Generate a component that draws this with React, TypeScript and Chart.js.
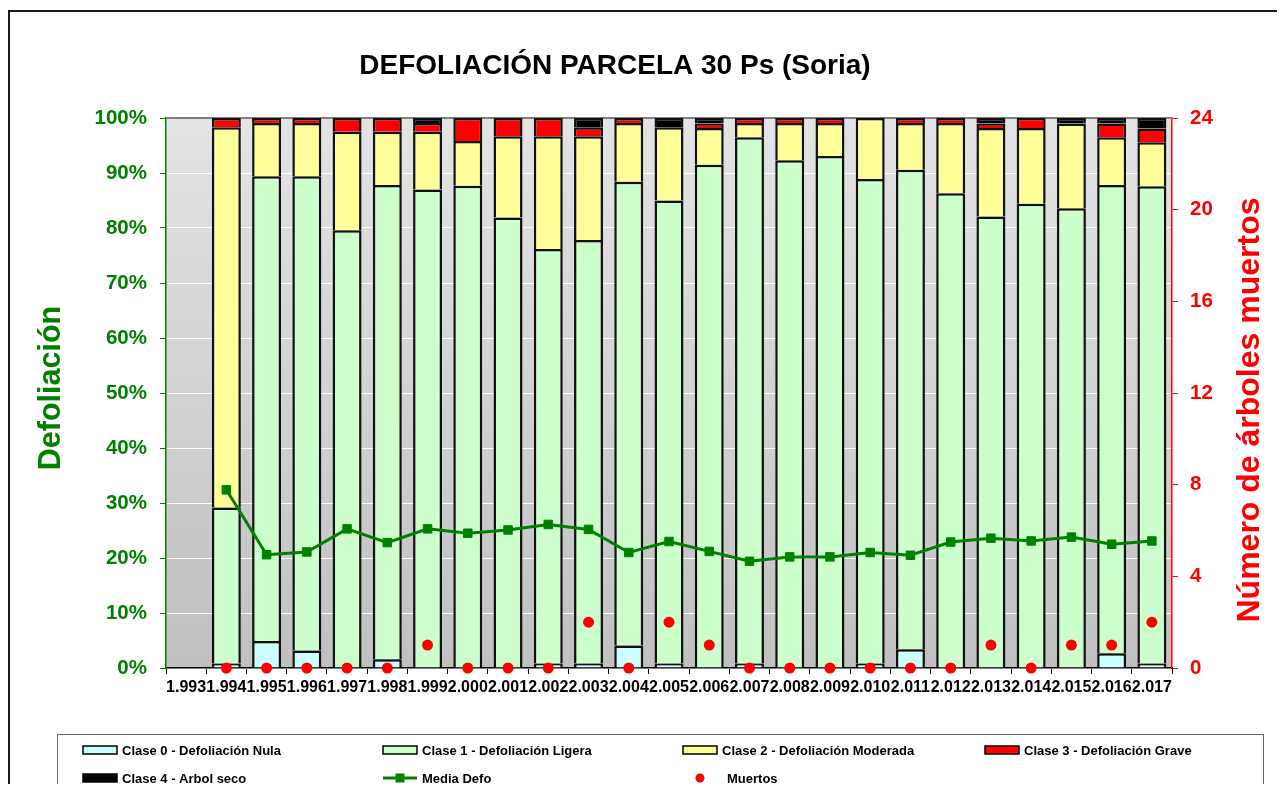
import React, { useEffect, useRef } from "react";
import { Chart, registerables } from "chart.js";

Chart.register(...registerables);

const years = ["1.993", "1.994", "1.995", "1.996", "1.997", "1.998", "1.999", "2.000", "2.001", "2.002", "2.003", "2.004", "2.005", "2.006", "2.007", "2.008", "2.009", "2.010", "2.011", "2.012", "2.013", "2.014", "2.015", "2.016", "2.017"];

const clase0 = [null, 0.8, 4.9, 3.2, 0, 1.6, 0, 0, 0, 0.8, 0.8, 4.1, 0.8, 0, 0.8, 0, 0, 0.8, 3.4, 0, 0, 0, 0, 2.7, 0.8];
const clase1 = [null, 28.4, 84.5, 86.2, 79.6, 86.2, 87.0, 87.7, 81.9, 75.4, 77.0, 84.3, 84.2, 91.5, 95.7, 92.3, 93.1, 88.1, 87.2, 86.3, 82.1, 84.4, 83.6, 85.1, 86.8];
const clase2 = [null, 69.1, 9.7, 9.7, 17.9, 9.7, 10.5, 8.1, 14.8, 20.5, 18.9, 10.7, 13.3, 6.7, 2.6, 6.8, 6.0, 11.1, 8.5, 12.8, 16.1, 13.8, 15.4, 8.7, 8.0];
const clase3 = [null, 1.7, 0.9, 0.9, 2.5, 2.5, 1.6, 4.2, 3.3, 3.3, 1.6, 0.9, 0, 0.8, 0.9, 0.9, 0.9, 0, 0.9, 0.9, 0.8, 1.8, 0, 2.5, 2.5];
const clase4 = [null, 0, 0, 0, 0, 0, 0.9, 0, 0, 0, 1.7, 0, 1.7, 1.0, 0, 0, 0, 0, 0, 0, 1.0, 0, 1.0, 1.0, 1.9];
const mediaDefo = [null, 32.4, 20.6, 21.1, 25.3, 22.8, 25.3, 24.5, 25.1, 26.1, 25.2, 21.0, 23.0, 21.2, 19.4, 20.2, 20.2, 21.0, 20.5, 22.9, 23.6, 23.1, 23.8, 22.5, 23.1];
const muertos = [null, 0, 0, 0, 0, 0, 1, 0, 0, 0, 2, 0, 2, 1, 0, 0, 0, 0, 0, 0, 1, 0, 1, 1, 2];

const leftTicks = { min: 0, max: 100, step: 10 };
const rightTicks = { min: 0, max: 24, step: 4 };

const FONT = "'Liberation Sans', Arial, sans-serif";
const GREEN = "#008000";
const RED = "#FF0000";

const W = 1269;
const H = 776;

const decor = {
  id: "decor",
  beforeDraw(chart: any) {
    const { ctx, chartArea: a } = chart;
    const g = ctx.createLinearGradient(0, a.top, 0, a.bottom);
    g.addColorStop(0, "#e4e4e4");
    g.addColorStop(1, "#c0c0c0");
    ctx.save();
    ctx.fillStyle = g;
    ctx.fillRect(a.left, a.top, a.right - a.left, a.bottom - a.top);
    ctx.restore();
  },
  beforeDatasetsDraw(chart: any) {
    const { ctx, chartArea: a } = chart;
    ctx.save();
    ctx.strokeStyle = "#808080";
    ctx.lineWidth = 2;
    ctx.beginPath();
    ctx.moveTo(a.left, a.top);
    ctx.lineTo(a.right, a.top);
    ctx.stroke();
    ctx.restore();
  },
  afterDraw(chart: any) {
    const { ctx, chartArea: a } = chart;
    ctx.save();
    // outer frame
    ctx.strokeStyle = "#1a1a1a";
    ctx.lineWidth = 2;
    ctx.strokeRect(1, 3, W + 40, H + 40);

    // title
    ctx.fillStyle = "#000";
    ctx.font = `bold 28px ${FONT}`;
    ctx.textAlign = "center";
    ctx.textBaseline = "middle";
    ctx.fillText("DEFOLIACIÓN PARCELA 30 Ps (Soria)", 607, 58);

    // left axis title
    ctx.save();
    ctx.translate(44, (a.top + a.bottom) / 2 - 5);
    ctx.rotate(-Math.PI / 2);
    ctx.fillStyle = GREEN;
    ctx.font = `bold 30.5px ${FONT}`;
    ctx.fillText("Defoliación", 0, 0);
    ctx.restore();

    // right axis title
    ctx.save();
    ctx.translate(1242, (a.top + a.bottom) / 2 + 17);
    ctx.rotate(-Math.PI / 2);
    ctx.fillStyle = RED;
    ctx.font = `bold 32px ${FONT}`;
    ctx.fillText("Número de árboles muertos", 0, 0);
    ctx.restore();

    // legend
    ctx.strokeStyle = "#666";
    ctx.lineWidth = 1;
    ctx.strokeRect(49.5, 726.5, 1206, 120);
    const cols = [75, 375, 675, 977];
    const rows = [742, 770];
    const box = (x: number, y: number, fill: string) => {
      ctx.fillStyle = fill;
      ctx.fillRect(x, y - 4, 34, 8);
      ctx.strokeStyle = "#000";
      ctx.lineWidth = 1.5;
      ctx.strokeRect(x, y - 4, 34, 8);
    };
    const label = (x: number, y: number, t: string) => {
      ctx.fillStyle = "#000";
      ctx.font = `bold 13px ${FONT}`;
      ctx.textAlign = "left";
      ctx.textBaseline = "middle";
      ctx.fillText(t, x + 39, y + 1);
    };
    const ds = chart.data.datasets;
    const bars = ds.filter((d: any) => d.type === "bar");
    const slots = [
      [cols[0], rows[0]],
      [cols[1], rows[0]],
      [cols[2], rows[0]],
      [cols[3], rows[0]],
      [cols[0], rows[1]],
    ];
    bars.forEach((d: any, i: number) => {
      const [x, y] = slots[i];
      box(x, y, d.backgroundColor);
      label(x, y, d.label);
    });
    const media = ds.find((d: any) => d.label === "Media Defo");
    {
      const x = cols[1], y = rows[1];
      ctx.strokeStyle = media.borderColor;
      ctx.lineWidth = 3;
      ctx.beginPath();
      ctx.moveTo(x, y);
      ctx.lineTo(x + 34, y);
      ctx.stroke();
      ctx.fillStyle = media.borderColor;
      ctx.fillRect(x + 17 - 4.5, y - 4.5, 9, 9);
      label(x, y, media.label);
    }
    const mu = ds.find((d: any) => d.label === "Muertos");
    {
      const x = cols[2], y = rows[1];
      ctx.fillStyle = mu.backgroundColor;
      ctx.beginPath();
      ctx.arc(x + 17, y, 4.5, 0, Math.PI * 2);
      ctx.fill();
      label(x + 5, y, mu.label);
    }
    ctx.restore();
  },
};

export default function App() {
  const ref = useRef<HTMLCanvasElement | null>(null);
  useEffect(() => {
    if (!ref.current) return;
    const barBase = {
      type: "bar" as const,
      borderColor: "#111",
      borderWidth: 2.5,
      borderSkipped: "start" as const,
      yAxisID: "y",
      stack: "clases",
      order: 2,
      barPercentage: 0.72,
      categoryPercentage: 1,
    };
    const chart = new Chart(ref.current, {
      type: "bar",
      data: {
        labels: years,
        datasets: [
          { ...barBase, label: "Clase 0 - Defoliación Nula", data: clase0, backgroundColor: "#CCFFFF" },
          { ...barBase, label: "Clase 1 - Defoliación Ligera", data: clase1, backgroundColor: "#CCFFCC" },
          { ...barBase, label: "Clase 2 - Defoliación Moderada", data: clase2, backgroundColor: "#FFFF99" },
          { ...barBase, label: "Clase 3 - Defoliación Grave", data: clase3, backgroundColor: "#FF0000" },
          { ...barBase, label: "Clase 4 - Arbol seco", data: clase4, backgroundColor: "#000000" },
          {
            type: "line",
            label: "Media Defo",
            data: mediaDefo,
            borderColor: GREEN,
            backgroundColor: GREEN,
            borderWidth: 3,
            pointStyle: "rect",
            pointRadius: 6,
            pointBorderWidth: 1,
            yAxisID: "y",
            stack: "media",
            order: 1,
            spanGaps: false,
          } as any,
          {
            type: "line",
            label: "Muertos",
            data: muertos,
            showLine: false,
            borderColor: RED,
            backgroundColor: RED,
            pointRadius: 5.5,
            pointBorderWidth: 0,
            yAxisID: "y1",
            order: 0,
            clip: false,
          } as any,
        ],
      },
      options: {
        animation: false,
        responsive: true,
        maintainAspectRatio: false,
        layout: { padding: { left: 0, right: 0, top: 110, bottom: 86 } },
        plugins: { legend: { display: false }, title: { display: false }, tooltip: { enabled: false } },
        scales: {
          x: {
            stacked: true,
            afterFit: (s: any) => { s.height = 30; },
            grid: { offset: true, drawOnChartArea: false, color: "#000", tickLength: 6 },
            border: { color: "#000", width: 1.5 },
            ticks: {
              autoSkip: false,
              maxRotation: 0,
              minRotation: 0,
              padding: 4,
              color: "#000",
              font: { family: FONT, weight: "bold", size: 16 },
            },
          },
          y: {
            stacked: true,
            position: "left",
            min: leftTicks.min,
            max: leftTicks.max,
            afterFit: (s: any) => { s.width = 158; },
            grid: { color: "#ffffff", lineWidth: 1, tickColor: GREEN, tickLength: 6 },
            border: { color: GREEN, width: 1.5 },
            ticks: {
              stepSize: leftTicks.step,
              padding: 13,
              color: GREEN,
              font: { family: FONT, weight: "bold", size: 20.5 },
              callback: (v: any) => `${v}%`,
            },
          },
          y1: {
            position: "right",
            min: rightTicks.min,
            max: rightTicks.max,
            afterFit: (s: any) => { s.width = 105; },
            grid: { drawOnChartArea: false, tickColor: RED, tickLength: 6 },
            border: { color: RED, width: 1.5 },
            ticks: {
              stepSize: rightTicks.step,
              padding: 12,
              color: RED,
              font: { family: FONT, weight: "bold", size: 20.5 },
            },
          },
        },
      },
      plugins: [decor],
    });
    return () => chart.destroy();
  }, []);
  return (
    <div style={{ width: W, height: H, position: "relative" }}>
      <canvas ref={ref} />
    </div>
  );
}
